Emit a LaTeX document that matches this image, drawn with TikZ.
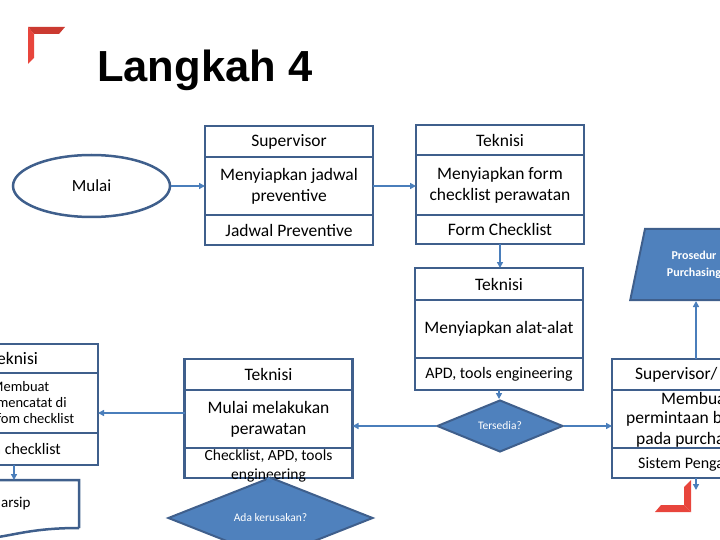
\documentclass[tikz,border=0pt]{standalone}
\usepackage{fontspec}
\setmainfont{Carlito}
\newfontfamily\titlefont{Liberation Sans}
\usetikzlibrary{arrows.meta, positioning, shapes.geometric}

\definecolor{boxblue}{HTML}{3F5F8C}
\definecolor{lineblue}{HTML}{4A7EBB}
\definecolor{fillblue}{HTML}{4F81BD}
\definecolor{logored}{HTML}{E8453C}
\definecolor{logodark}{HTML}{CB3A31}

\begin{document}
\begin{tikzpicture}[x=1pt, y=-1pt, >={Triangle[length=6pt, width=6pt]},
    cell/.style={draw=boxblue, line width=2.5pt, minimum width=168pt, outer sep=0pt,
        inner sep=1pt, align=center, font=\fontsize{17.5}{21}\selectfont},
    head/.style={cell, minimum height=31pt},
    body/.style={cell, minimum height=58pt},
    foot/.style={cell, minimum height=30pt, font=\fontsize{16}{19}\selectfont},
    cut/.style={anchor=west, inner sep=0pt, font=\fontsize{17.5}{21}\selectfont},
    note/.style={inner sep=0pt, font=\fontsize{14.5}{16}\selectfont},
    decision/.style={diamond, draw=boxblue, fill=fillblue, line width=2pt, text=white,
        inner sep=0pt, font=\fontsize{11.5}{13}\selectfont},
    flow/.style={->, draw=lineblue, line width=2.2pt}]

    % page is 720 x 540, y grows downwards like the slide
    \useasboundingbox (0,0) rectangle (720,540);
    \clip (0,0) rectangle (720,540);

    % --- Corner marks and title ---
    \fill[logodark] (28,27) -- (65,27) -- (59,34) -- (34,34) -- cycle; % top left
    \fill[logored] (28,27) -- (34,34) -- (34,58) -- (28,64) -- cycle;
    \fill[logored] (691,480) -- (691,512) -- (684,505) -- (684,487) -- cycle; % bottom right
    \fill[logored] (691,512) -- (655,512) -- (661,505) -- (684,505) -- cycle;

    \node[anchor=base west, inner sep=0pt, font=\titlefont\bfseries\fontsize{43.5}{50}\selectfont]
        (title) at (97,82) {Langkah 4};

    % --- Start ---
    \node[ellipse, draw=boxblue, line width=2.5pt, minimum width=157pt, minimum height=62pt,
        font=\fontsize{17}{20}\selectfont] (mulai) at (91.5,186) {Mulai};

    % --- Supervisor: jadwal ---
    \node[head] (sup) at (289,141.5) {Supervisor};
    \node[body, below=0pt of sup] (jadwal) {Menyiapkan jadwal\\preventive};
    \node[foot, below=0pt of jadwal, font=\fontsize{17.5}{21}\selectfont] (jadwalout) {Jadwal Preventive};

    % --- Teknisi: form checklist ---
    \node[head, minimum height=30pt] (tekform) at (500,140) {Teknisi};
    \node[body, below=0pt of tekform, minimum height=60pt] (form) {Menyiapkan form\\checklist perawatan};
    \node[foot, below=0pt of form, minimum height=29pt, font=\fontsize{17.5}{21}\selectfont] (formout) {Form Checklist};

    % --- Teknisi: alat-alat ---
    \node[head, minimum height=32pt] (tekalat) at (499,284) {Teknisi};
    \node[body, below=0pt of tekalat] (alat) {Menyiapkan alat-alat};
    \node[foot, below=0pt of alat, minimum height=32pt] (alatout) {APD, tools engineering};

    \node[decision, minimum width=126pt, minimum height=48pt] (tersedia) at (500,426) {Tersedia?};

    % --- Teknisi: perawatan ---
    \node[head] (tekrawat) at (268.5,374.5) {Teknisi};
    \node[body, below=0pt of tekrawat] (rawat) {Mulai melakukan\\perawatan};
    \node[foot, below=0pt of rawat] (rawatout) {};
    \node[inner sep=0pt, align=center, font=\fontsize{15.5}{19}\selectfont]
        (rawattext) at (268.5,465.5) {Checklist, APD, tools\\engineering};

    \node[decision, minimum width=205pt, minimum height=50pt] (rusak) at (270.5,518) {Ada kerusakan?};

    % --- Teknisi: catat (left, cut by the page) ---
    \node[head, minimum height=29pt] (tekcatat) at (14,358.5) {Teknisi};
    \node[body, below=0pt of tekcatat, minimum height=60pt] (catat) {};
    \node[note, anchor=west, align=left] (catattext) at (-9,403) {Membuat\\/mencatat di\\/fom checklist};
    \node[foot, below=0pt of catat, minimum height=32pt] (catatout) {Form checklist};

    % archive document shape
    \node[minimum width=149pt, minimum height=48pt, outer sep=0pt] (arsip) at (4.5,504) {};
    \draw[boxblue, line width=2.5pt] (arsip.south east) -- (arsip.north east) -- (arsip.north west)
        -- ++(0,56) .. controls (4.5,546.5) and (4.5,528) .. (arsip.south east);
    \node[note, anchor=west, font=\fontsize{15}{18}\selectfont] (arsiptext) at (1,504) {arsip};

    % --- Supervisor/ permintaan (right, cut by the page) ---
    \node[head] (supminta) at (696,374.5) {};
    \node[body, below=0pt of supminta] (minta) {};
    \node[foot, below=0pt of minta] (mintaout) {};
    \node[cut] at (635,374.5) {Supervisor/};
    \node[cut] at (661,398) {Membua};
    \node[cut] at (626,419) {permintaan b};
    \node[cut] at (636,440) {pada purcha};
    \node[cut, font=\fontsize{16}{19}\selectfont] at (638,464) {Sistem Penga};
    \coordinate (mintaend) at (696,490);

    \node[trapezium, trapezium left angle=75, trapezium right angle=75, trapezium stretches=true,
        minimum width=128pt, minimum height=71pt, draw=boxblue, fill=fillblue, line width=2pt,
        text=white, align=center, font=\bfseries\fontsize{12}{17}\selectfont]
        (prosedur) at (694,264.5) {Prosedur\\Purchasing};

    % --- Connectors ---
    \draw[flow] (mulai) -- (jadwal);
    \draw[flow] (jadwal.east) -- (jadwal.east -| form.west);
    \draw[flow] (formout.south) -- (formout.south |- tekalat.north);
    \draw[flow] (alatout.south) -- (alatout.south |- tersedia.north);
    \draw[flow] (tersedia.west) -- (tersedia.west -| rawat.east);
    \draw[flow] (tersedia.east) -- (tersedia.east -| minta.west);
    \draw[flow] ([yshift=6pt]rawat.west) -- ([yshift=6pt]rawat.west -| catat.east);
    \draw[flow] (rawatout.south) -- (rawatout.south |- rusak.north);
    \draw[flow] (catatout.south) -- (catatout.south |- arsip.north);
    \draw[flow] (supminta.north) -- (supminta.north |- prosedur.south);
    \draw[flow] (mintaout.south) -- (mintaend);

\end{tikzpicture}
\end{document}
